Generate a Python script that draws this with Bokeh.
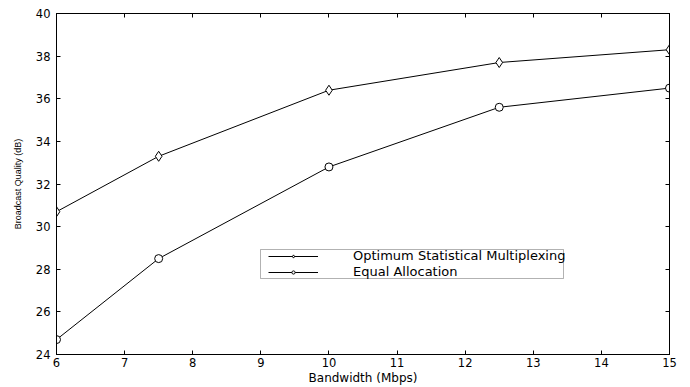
from bokeh.plotting import figure
from bokeh.models import (LinearAxis, FixedTicker, Legend, LegendItem, Range1d,
                          CustomJSTickFormatter, ColumnDataSource, BoxAnnotation)
from bokeh.embed import file_html
from bokeh.resources import INLINE

# Data
bandwidth = [6, 7.5, 10, 12.5, 15]
optimum = [30.7, 33.3, 36.4, 37.7, 38.3]
equal = [24.7, 28.5, 32.8, 35.6, 36.5]
x_ticks = [6, 7, 8, 9, 10, 11, 12, 13, 14, 15]
y_ticks = [24, 26, 28, 30, 32, 34, 36, 38, 40]
series_names = ["Optimum Statistical Multiplexing", "Equal Allocation"]

FONT = "DejaVu Sans"
FONT_Y = "Liberation Sans"

p = figure(width=690, height=387, output_backend="svg", toolbar_location=None,
           x_range=Range1d(6, 15), y_range=Range1d(24, 40),
           min_border_left=56, min_border_right=21, min_border_top=13,
           min_border_bottom=32, x_axis_label="Bandwidth (Mbps)",
           y_axis_label="Broadcast Quality (dB)")
p.grid.visible = False
p.outline_line_color = "black"
p.background_fill_color = "white"
p.border_fill_color = "white"

src1 = ColumnDataSource(dict(x=bandwidth, y=optimum))
src2 = ColumnDataSource(dict(x=bandwidth, y=equal))

l1 = p.line("x", "y", source=src1, line_color="black", line_width=1)
m1 = p.scatter("x", "y", source=src1, marker="diamond", size=10,
               fill_color="white", line_color="black", line_width=1)
l2 = p.line("x", "y", source=src2, line_color="black", line_width=1)
m2 = p.scatter("x", "y", source=src2, marker="circle", size=8,
               fill_color="white", line_color="black", line_width=1)

def style_axis(ax, ticks, labels=True):
    ax.ticker = FixedTicker(ticks=ticks)
    ax.major_tick_in = 4
    ax.major_tick_out = 0
    ax.minor_tick_line_color = None
    ax.axis_line_color = "black"
    ax.major_tick_line_color = "black"
    ax.major_label_text_font = FONT
    ax.major_label_text_color = "black"
    ax.axis_label_text_font = FONT
    ax.axis_label_text_font_style = "normal"
    ax.axis_label_text_color = "black"
    if not labels:
        ax.formatter = CustomJSTickFormatter(code="return ''")
        ax.major_label_standoff = 0

xa = p.xaxis[0]
style_axis(xa, x_ticks)
xa.major_label_text_font_size = "11.5px"
xa.major_label_standoff = 3
xa.axis_label_text_font_size = "12px"
xa.axis_label_standoff = 1

ya = p.yaxis[0]
style_axis(ya, y_ticks)
ya.major_label_text_font_size = "11.5px"
ya.major_label_standoff = 6
ya.axis_label_text_font = FONT_Y
ya.axis_label_text_font_size = "9px"
ya.axis_label_standoff = 10

top = LinearAxis()
style_axis(top, x_ticks, labels=False)
p.add_layout(top, "above")
right = LinearAxis()
style_axis(right, y_ticks, labels=False)
p.add_layout(right, "right")

# legend frame (screen units, relative to plot frame)
box = BoxAnnotation(left=204, right=507, bottom=76, top=105,
                    left_units="screen", right_units="screen",
                    bottom_units="screen", top_units="screen",
                    fill_alpha=0, line_color="black", line_width=1)
p.add_layout(box)

def make_legend(label, rends, loc):
    return Legend(items=[LegendItem(label=label, renderers=rends)],
                  location=loc, label_text_font=FONT, label_text_color="black",
                  label_text_font_size="13px", label_height=8, glyph_height=8,
                  glyph_width=50, label_standoff=35, spacing=0, padding=0,
                  margin=0, border_line_color=None, background_fill_alpha=0)

p.add_layout(make_legend(series_names[0], [l1, m1], (212, 91)), "center")
p.add_layout(make_legend(series_names[1], [l2, m2], (212, 75)), "center")

open("out.html", "w").write(file_html(p, INLINE))
